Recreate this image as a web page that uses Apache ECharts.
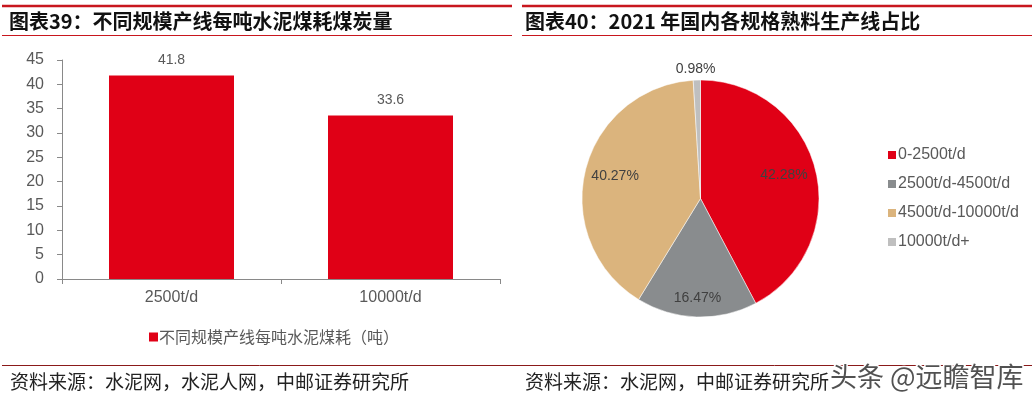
<!DOCTYPE html>
<html>
<head>
<meta charset="utf-8">
<script src="https://cdn.jsdelivr.net/npm/echarts@6/dist/echarts.min.js"></script>
<style>
html,body{margin:0;padding:0;background:#fff;}
#c{width:1034px;height:393px;}
</style>
</head>
<body>
<div id="c"></div>
<script>
// ---- data ----
const barCategories = ['2500t/d', '10000t/d'];
const barValues = [41.8, 33.6];
const barSeriesName = '不同规模产线每吨水泥煤耗（吨）';
const pieNames = ['0-2500t/d', '2500t/d-4500t/d', '4500t/d-10000t/d', '10000t/d+'];
const pieValues = [42.28, 16.47, 40.27, 0.98];
const leftTitle = '图表39：不同规模产线每吨水泥煤耗煤炭量';
const rightTitle = '图表40：2021 年国内各规格熟料生产线占比';
const leftSource = '资料来源：水泥网，水泥人网，中邮证券研究所';
const rightSource = '资料来源：水泥网，中邮证券研究所';
const watermark = '头条 @远瞻智库';

// ---- styles ----
const pieColors = ['#E00016', '#898C8E', '#DBB47D', '#BFBFBF'];
const pieLabelOffsets = [[23, -8], [-1, 37], [-25, -7], [-3, -67]];
const FONT = '"Noto Sans CJK SC", "Liberation Sans", Arial, sans-serif';
const LFONT = 'Arial, "Liberation Sans", "Noto Sans CJK SC", sans-serif';

const chart = echarts.init(document.getElementById('c'), null, {renderer: 'canvas'});

const line = (x1, y1, x2, y2, w, c) => ({type: 'line', shape: {x1, y1, x2, y2}, style: {stroke: c, lineWidth: w}, silent: true});
const txt = (x, y, t, size, weight, color) => ({type: 'text', x, y, silent: true, style: {text: t, fontSize: size, fontWeight: weight, fill: color, fontFamily: FONT, textVerticalAlign: 'middle'}});

chart.setOption({
  animation: false,
  backgroundColor: '#fff',
  graphic: [
    line(2, 6, 512, 6, 2.5, '#C8161E'),
    line(522, 6, 1032, 6, 2.5, '#C8161E'),
    line(2, 35.5, 512, 35.5, 1, '#C8161E'),
    line(522, 35.5, 1032, 35.5, 1, '#C8161E'),
    line(2, 365.5, 1032, 365.5, 1, '#8B1A1A'),
    txt(9, 21, leftTitle, 20, 'bold', '#111'),
    txt(525, 21, rightTitle, 20, 'bold', '#111'),
    txt(10, 382, leftSource, 19, 'normal', '#222'),
    txt(525, 382, rightSource, 19, 'normal', '#222'),
    {type: 'text', x: 830, y: 377, z: 100, silent: true,
     style: {text: watermark, fontSize: 27, fontFamily: FONT, fill: 'rgba(50,50,50,0.85)', stroke: '#fff', lineWidth: 3, textVerticalAlign: 'middle'}}
  ],
  grid: {left: 62, top: 60, width: 438, height: 219, containLabel: false},
  xAxis: {
    type: 'category', data: barCategories,
    axisLine: {lineStyle: {color: '#898989', width: 1}},
    axisTick: {show: true, length: 5, lineStyle: {color: '#898989'}},
    axisLabel: {color: '#595959', fontSize: 16, fontFamily: LFONT, margin: 11}
  },
  yAxis: {
    type: 'value', min: 0, max: 45, interval: 5,
    axisLine: {show: true, lineStyle: {color: '#898989', width: 1}},
    axisTick: {show: true, length: 5, lineStyle: {color: '#898989'}},
    axisLabel: {color: '#595959', fontSize: 16, fontFamily: LFONT, margin: 18},
    splitLine: {show: false}
  },
  legend: [
    {data: [barSeriesName], left: 144, top: 324, itemWidth: 9, itemHeight: 9, itemGap: 10,
     icon: 'rect', textStyle: {color: '#595959', fontSize: 16, fontFamily: FONT, padding: [0, 0, 0, -4]}},
    {data: pieNames, orient: 'vertical', left: 881, top: 142, itemWidth: 10, itemHeight: 10, itemGap: 13,
     icon: 'rect', textStyle: {color: '#595959', fontSize: 16, fontFamily: LFONT, padding: [0, 0, 0, -4]}}
  ],
  series: [
    {
      type: 'bar', name: barSeriesName, data: barValues, barWidth: 125,
      itemStyle: {color: '#E00016'},
      label: {show: true, position: 'top', distance: 8, color: '#595959', fontSize: 14, fontFamily: LFONT}
    },
    {
      type: 'pie', center: [700.5, 198.5], radius: [0, 118.5], startAngle: 90, clockwise: true,
      itemStyle: {borderColor: '#fff', borderWidth: 0.5},
      labelLine: {show: false},
      data: pieNames.map((n, i) => ({
        name: n, value: pieValues[i], itemStyle: {color: pieColors[i]},
        label: {show: true, position: 'inside', offset: pieLabelOffsets[i], formatter: '{c}%',
                color: '#404040', fontSize: 14, fontFamily: LFONT}
      }))
    }
  ]
});
</script>
</body>
</html>
